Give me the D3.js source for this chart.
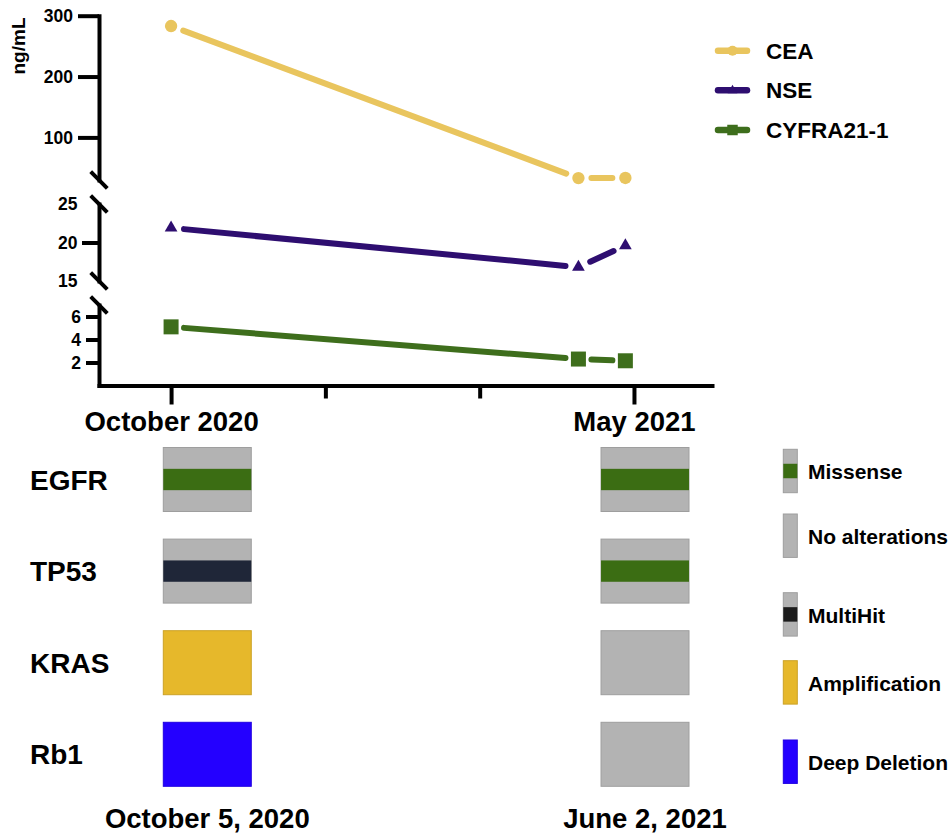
<!DOCTYPE html>
<html>
<head>
<meta charset="utf-8">
<script src="https://cdn.jsdelivr.net/npm/d3@7"></script>
<style>
  body { margin: 0; background: #fff; }
  text { font-family: "Liberation Sans", Arial, Helvetica, sans-serif; font-weight: bold; fill: #000; }
</style>
</head>
<body>
<svg id="chart" width="949" height="836"></svg>
<script>
// ---- Serum tumour markers (ng/mL); time in months from October 2020 ----
const drawMonths  = [0, 6.16, 6.87];
const markerNames = ["CEA", "NSE", "CYFRA21-1"];
const ceaValues   = [283, 33.1, 33.3];
const nseValues   = [21.9, 16.8, 19.6];
const cyfraValues = [5.1, 2.3, 2.15];

const xTickMonths = [0, 7 / 3, 14 / 3, 7];
const xTickLabels = ["October 2020", "", "", "May 2021"];

const upperTicks  = [100, 200, 300];
const middleTicks = [15, 20, 25];
const lowerTicks  = [2, 4, 6];

// ---- Genomic alterations per sample ----
const genes   = ["EGFR", "TP53", "KRAS", "Rb1"];
const samples = ["October 5, 2020", "June 2, 2021"];
const oct2020Alterations = ["Missense", "MultiHit", "Amplification", "Deep Deletion"];
const jun2021Alterations = ["Missense", "Missense", "No alterations", "No alterations"];
const alterationTypes = ["Missense", "No alterations", "MultiHit", "Amplification", "Deep Deletion"];

const svg = d3.select("#chart");

// ================= Line chart with broken y axis =================
const AXIS_X = 99, AXIS_Y = 385.5;
const x = d3.scaleLinear().domain([-1.09, 8.18]).range([AXIS_X, 712]);

// three stacked y-segments separated by axis breaks
const segments = [
  { scale: d3.scaleLinear().domain([30, 300]).range([180, 15.7]), ticks: upperTicks, tick: 21, pad: 5, breaks: ["bottom"] },
  { scale: d3.scaleLinear().domain([15, 25]).range([281, 204]), ticks: middleTicks, tick: 17, pad: 4.5, breaks: ["top", "bottom"], bare: [15, 25] },
  { scale: d3.scaleLinear().domain([0, 7]).range([AXIS_Y, 305]), ticks: lowerTicks, tick: 13, pad: 5, breaks: ["top"] }
];

segments.forEach(seg => {
  const g = svg.append("g").attr("transform", `translate(${AXIS_X},0)`)
    .call(d3.axisLeft(seg.scale).tickValues(seg.ticks).tickSize(seg.tick)
      .tickSizeOuter(0).tickPadding(seg.pad).tickFormat(d3.format("d")));
  g.attr("font-size", null).attr("font-family", null);
  g.select(".domain").attr("stroke", "#000").attr("stroke-width", 4).attr("stroke-linecap", "square");
  g.selectAll(".tick line").attr("stroke", "#000").attr("stroke-width", 4)
    .attr("display", d => (seg.bare && seg.bare.includes(d)) ? "none" : null);
  g.selectAll(".tick text").style("font-size", "17.5px");
  seg.breaks.forEach(side => {
    const r = seg.scale.range();
    const yb = side === "bottom" ? r[0] : r[1];
    svg.append("line")
      .attr("x1", AXIS_X - 8.3).attr("y1", yb - 8.3)
      .attr("x2", AXIS_X + 8.3).attr("y2", yb + 8.3)
      .attr("stroke", "#000").attr("stroke-width", 4);
  });
});

// y-axis title
svg.append("text")
  .attr("transform", "translate(24.5,46) rotate(-90)")
  .attr("text-anchor", "middle")
  .style("font-size", "19px")
  .text("ng/mL");

// x axis
const xg = svg.append("g").attr("transform", `translate(0,${AXIS_Y})`)
  .call(d3.axisBottom(x).tickValues(xTickMonths).tickSize(19).tickSizeOuter(0)
    .tickFormat((d, i) => xTickLabels[i]));
xg.attr("font-size", null).attr("font-family", null);
xg.select(".domain").attr("stroke", "#000").attr("stroke-width", 4).attr("stroke-linecap", "square");
xg.selectAll(".tick line").attr("stroke", "#000").attr("stroke-width", 4)
  .attr("y2", (d, i) => xTickLabels[i] ? 19 : 13);
xg.selectAll(".tick text").style("font-size", "27.5px").attr("y", 45.5).attr("dy", 0);

// series
const series = [
  { name: markerNames[0], values: ceaValues,   seg: 0, color: "#E9C55E", symbol: d3.symbolCircle,   size: 120, legendSize: 80 },
  { name: markerNames[1], values: nseValues,   seg: 1, color: "#2E0E70", symbol: d3.symbolTriangle, size: 70,  legendSize: 40 },
  { name: markerNames[2], values: cyfraValues, seg: 2, color: "#3E6E1C", symbol: d3.symbolSquare,   size: 225, legendSize: 110 }
];

const TRIM = 13; // gap left between each marker and the connecting line
series.forEach(s => {
  const yS = segments[s.seg].scale;
  const pts = s.values.map((v, i) => [x(drawMonths[i]), yS(v)]);
  const g = svg.append("g");
  d3.pairs(pts).forEach(([a, b]) => {
    const dx = b[0] - a[0], dy = b[1] - a[1];
    const len = Math.hypot(dx, dy);
    const ux = dx / len, uy = dy / len;
    g.append("line")
      .attr("x1", a[0] + ux * TRIM).attr("y1", a[1] + uy * TRIM)
      .attr("x2", b[0] - ux * TRIM).attr("y2", b[1] - uy * TRIM)
      .attr("stroke", s.color).attr("stroke-width", 6).attr("stroke-linecap", "round");
  });
  g.selectAll("path.mark").data(pts).join("path").attr("class", "mark")
    .attr("transform", p => `translate(${p[0]},${p[1]})`)
    .attr("d", d3.symbol().type(s.symbol).size(s.size))
    .attr("fill", s.color);
});

// line legend
const legY = d3.scalePoint().domain(markerNames).range([50.7, 130]);
const leg = svg.append("g");
series.forEach(s => {
  const yy = legY(s.name);
  leg.append("line").attr("x1", 718).attr("x2", 747).attr("y1", yy).attr("y2", yy)
    .attr("stroke", s.color).attr("stroke-width", 6.5).attr("stroke-linecap", "round");
  leg.append("path").attr("transform", `translate(732.5,${yy})`)
    .attr("d", d3.symbol().type(s.symbol).size(s.legendSize)).attr("fill", s.color);
  leg.append("text").attr("x", 766).attr("y", yy + 8).style("font-size", "22.5px").text(s.name);
});

// ================= Oncoprint =================
const fillOf = {
  "Missense": "#3B6D13",
  "No alterations": "#B3B3B3",
  "MultiHit": "#1F2638",
  "Amplification": "#E6B82B",
  "Deep Deletion": "#2400FF"
};
const GRAY = "#B3B3B3";
const banded = t => t === "Missense" || t === "MultiHit";

const col = d3.scaleBand().domain(samples).range([163.3, 689]).paddingInner(0.799).paddingOuter(0);
const row = d3.scaleBand().domain(genes).range([447.5, 786.3]).paddingInner(0.3013).paddingOuter(0);

const cells = [];
genes.forEach((gname, i) => {
  cells.push({ sample: samples[0], gene: gname, type: oct2020Alterations[i] });
  cells.push({ sample: samples[1], gene: gname, type: jun2021Alterations[i] });
});

const cg = svg.append("g");
cells.forEach(c => {
  const x0 = col(c.sample), y0 = row(c.gene), w = col.bandwidth(), h = row.bandwidth();
  const base = banded(c.type) ? GRAY : fillOf[c.type];
  cg.append("rect").attr("x", x0).attr("y", y0).attr("width", w).attr("height", h)
    .attr("fill", base).attr("stroke", d3.color(base).darker(0.35)).attr("stroke-width", 1);
  if (banded(c.type)) {
    cg.append("rect").attr("x", x0).attr("y", y0 + h / 3).attr("width", w).attr("height", h / 3)
      .attr("fill", fillOf[c.type]);
  }
});

// gene names
svg.append("g").selectAll("text").data(genes).join("text")
  .attr("x", 30).attr("y", d => row(d) + row.bandwidth() / 2 + 10)
  .style("font-size", "28px").text(d => d);

// sample dates
svg.append("g").selectAll("text").data(samples).join("text")
  .attr("x", d => col(d) + col.bandwidth() / 2).attr("y", 828)
  .attr("text-anchor", "middle").style("font-size", "27.5px").text(d => d);

// alteration legend
const legendTops = [449.3, 514, 592.7, 660.7, 740];
const SW = 14, SH = 43.4;
const lg = svg.append("g");
alterationTypes.forEach((t, i) => {
  const y0 = legendTops[i];
  const base = banded(t) ? GRAY : fillOf[t];
  lg.append("rect").attr("x", 783.3).attr("y", y0).attr("width", SW).attr("height", SH)
    .attr("fill", base).attr("stroke", d3.color(base).darker(0.35)).attr("stroke-width", 1);
  if (banded(t)) {
    lg.append("rect").attr("x", 783.3).attr("y", y0 + SH / 3).attr("width", SW).attr("height", SH / 3)
      .attr("fill", t === "MultiHit" ? "#1C1C1C" : fillOf[t]);
  }
  lg.append("text").attr("x", 808).attr("y", y0 + 30).style("font-size", "21px").text(t);
});
</script>
</body>
</html>
